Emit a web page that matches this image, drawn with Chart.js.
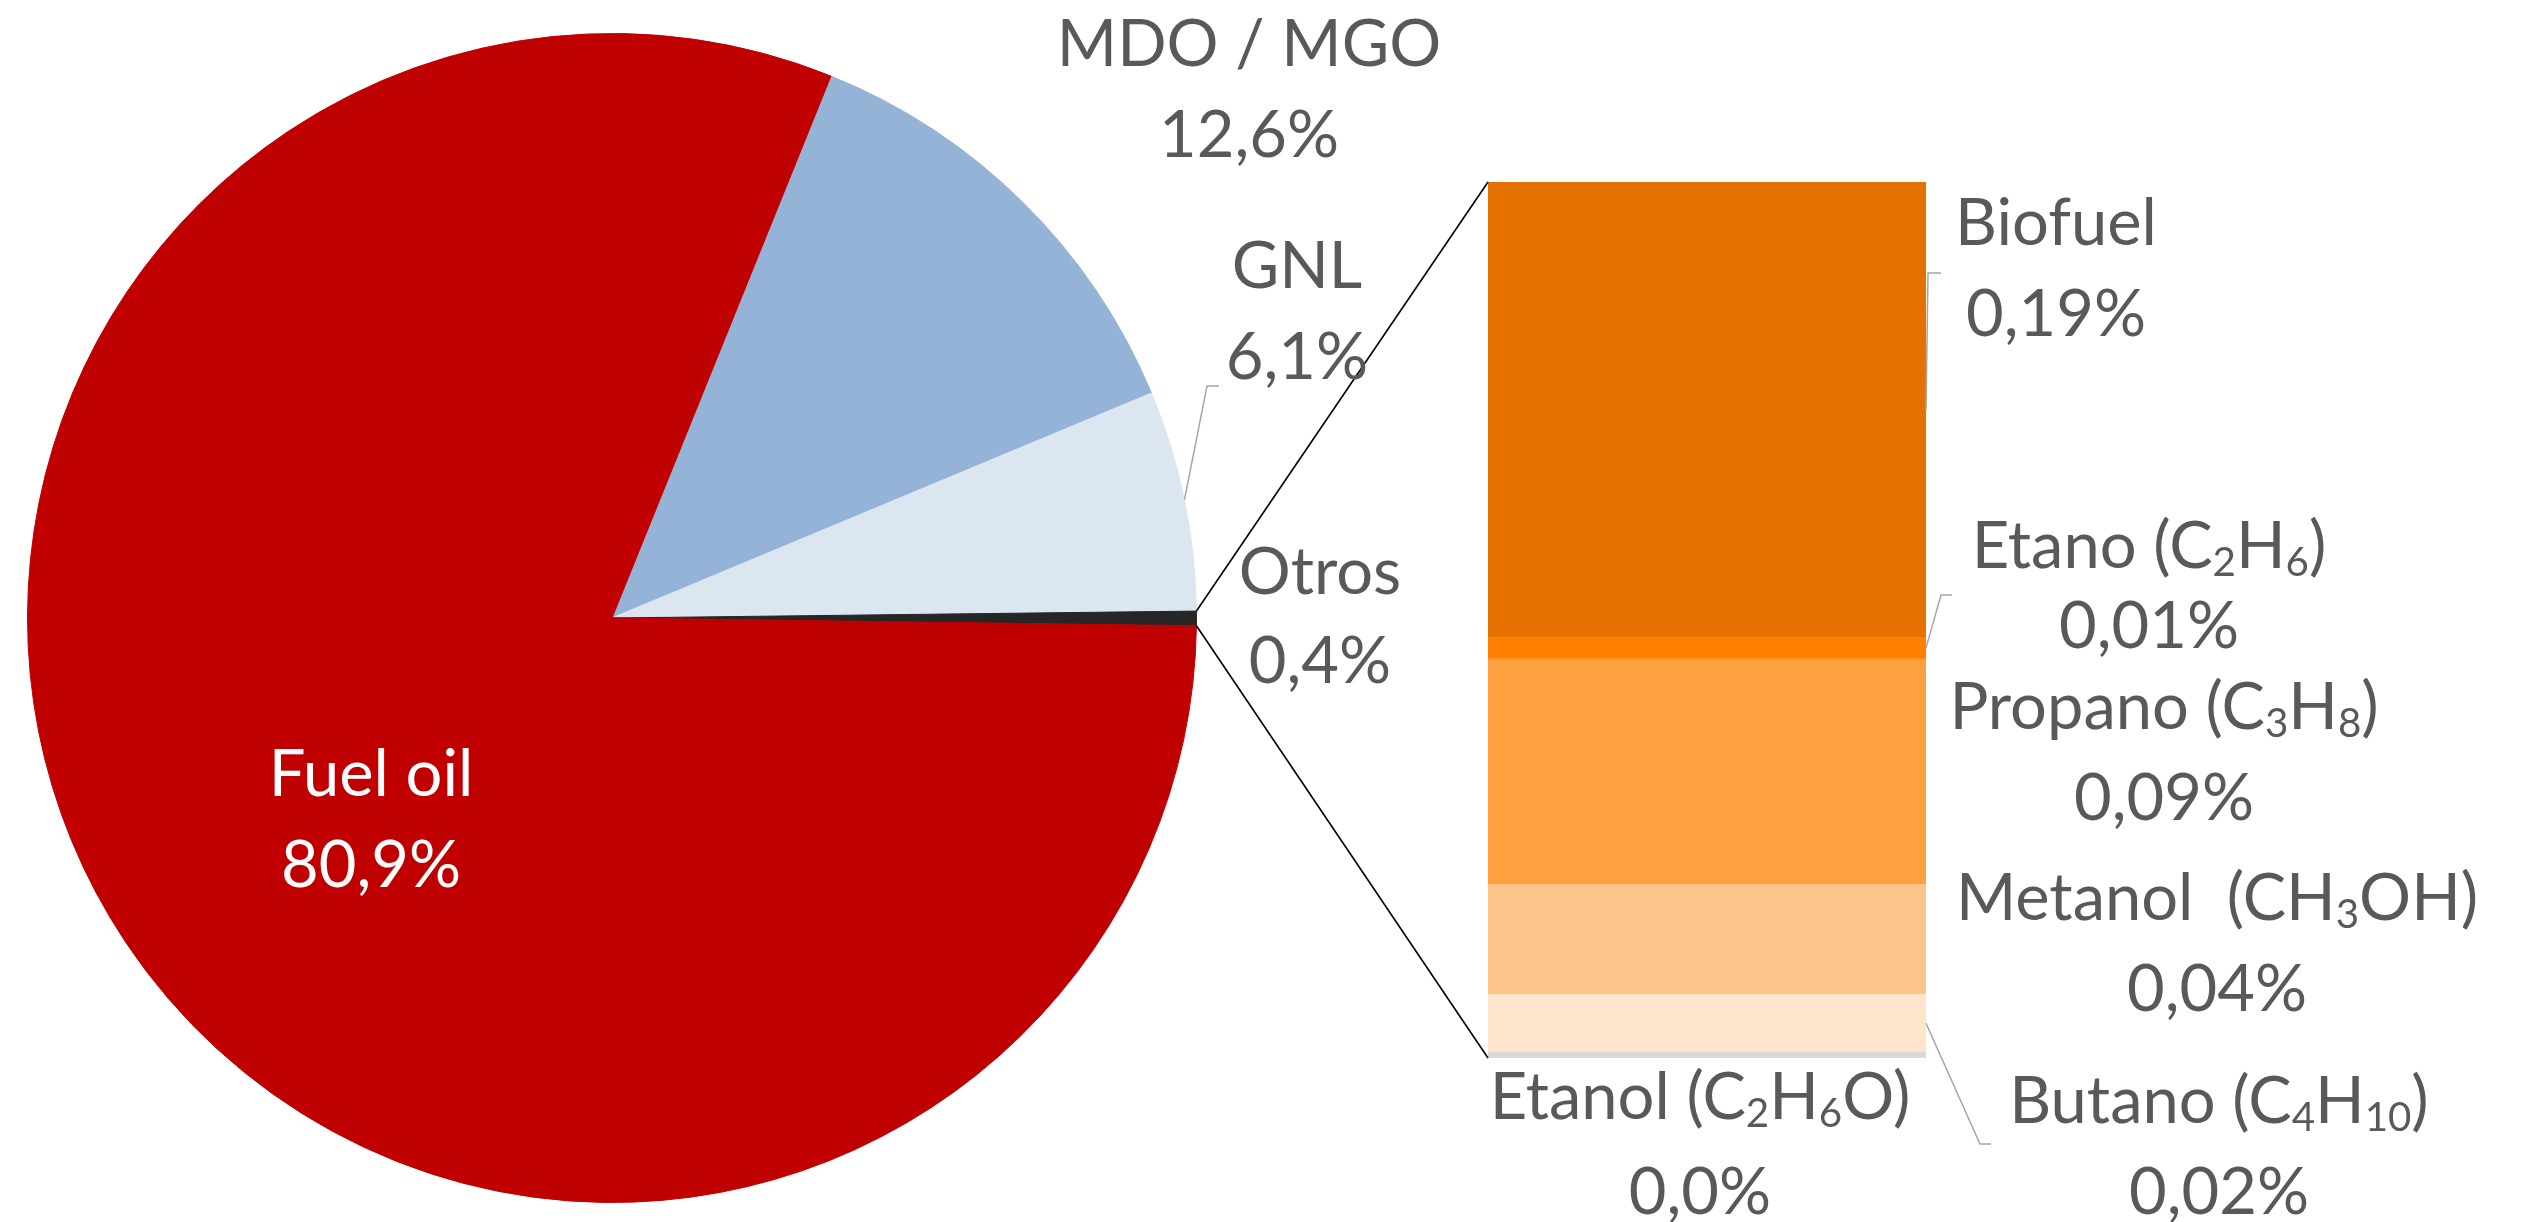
<!DOCTYPE html>
<html>
<head>
<meta charset="utf-8">
<script src="https://cdn.jsdelivr.net/npm/chart.js@4/dist/chart.umd.min.js"></script>
<style>
  html, body { margin: 0; padding: 0; background: #fff; width: 2532px; height: 1222px; overflow: hidden; }
  #wrap { position: relative; width: 2532px; height: 1222px; }
  canvas { position: absolute; display: block; }
  #pie { left: 27px; top: 33px; }
  #bar { left: 1488px; top: 182px; }
  #overlay { left: 0; top: 0; pointer-events: none; }
</style>
</head>
<body>
<div id="wrap">
  <canvas id="pie" width="1170" height="1170"></canvas>
  <canvas id="bar" width="438" height="876"></canvas>
  <canvas id="overlay" width="2532" height="1222"></canvas>
</div>
<script>
// ---------- DATA ----------
const pieCategories = ['MDO / MGO', 'GNL', 'Otros', 'Fuel oil'];
const pieValues = [12.6, 6.1, 0.4, 80.9];
const pieValueLabels = ['12,6%', '6,1%', '0,4%', '80,9%'];

// Breakdown of "Otros" (stacked from bottom to top)
const otrosCategories = ['Etanol (C₂H₆O)', 'Butano (C₄H₁₀)', 'Metanol  (CH₃OH)', 'Propano (C₃H₈)', 'Etano (C₂H₆)', 'Biofuel'];
const otrosValues = [0.0025, 0.024, 0.046, 0.094, 0.009, 0.19];
const otrosValueLabels = ['0,0%', '0,02%', '0,04%', '0,09%', '0,01%', '0,19%'];

// ---------- STYLES ----------
const pieColors = ['#95B3D7', '#DCE6F1', '#262626', '#C00000'];
const otrosColors = ['#D9D9D9', '#FEE5CB', '#FEC48A', '#FFA040', '#FF8000', '#E57200'];
const FONT = 'Lato, "Open Sans", sans-serif';
const FONT_SIZE = 65;
const SUB_SCALE = 0.62;
const TEXT_COLOR = '#595959';

// label layout (page coordinates of text blocks)
const pieLabelLayout = [
  { x: 1249, b1: 66,  b2: 157, color: TEXT_COLOR },
  { x: 1297, b1: 288, b2: 379, color: TEXT_COLOR, leader: { elbow: [1207, 386], tail: 12 } },
  { x: 1320, b1: 594, b2: 683, color: TEXT_COLOR },
  { x: 371,  b1: 796, b2: 887, color: '#FFFFFF' }
];
const otrosLabelLayout = [
  { x: 1700, b1: 1119, b2: 1214 },
  { x: 2219, b1: 1123, b2: 1214, leader: { elbow: [1980, 1144], tail: 11 } },
  { x: 2217, b1: 920,  b2: 1011 },
  { x: 2164, b1: 729,  b2: 820 },
  { x: 2149, b1: 568,  b2: 648, leader: { elbow: [1941, 595], tail: 11 } },
  { x: 2056, b1: 245,  b2: 336, leader: { elbow: [1928, 273], tail: 13 } }
];

Chart.defaults.font.family = FONT;

const pieCanvas = document.getElementById('pie');
const barCanvas = document.getElementById('bar');
const overlay = document.getElementById('overlay');

const pieChart = new Chart(pieCanvas, {
  type: 'pie',
  data: {
    labels: pieCategories,
    datasets: [{
      data: pieValues,
      backgroundColor: pieColors,
      borderColor: pieColors,
      borderWidth: 1
    }]
  },
  options: {
    responsive: false,
    animation: false,
    rotation: 22,
    layout: { padding: 0 },
    plugins: { legend: { display: false }, tooltip: { enabled: false } }
  }
});

const otrosTotal = otrosValues.reduce((a, b) => a + b, 0);
const barChart = new Chart(barCanvas, {
  type: 'bar',
  data: {
    labels: ['Otros'],
    datasets: otrosCategories.map((c, i) => ({
      label: c,
      data: [otrosValues[i]],
      backgroundColor: otrosColors[i],
      borderWidth: 0,
      barPercentage: 1,
      categoryPercentage: 1,
      stack: 'otros'
    }))
  },
  options: {
    responsive: false,
    animation: false,
    layout: { padding: 0 },
    scales: {
      x: { stacked: true, display: false },
      y: { stacked: true, display: false, min: 0, max: otrosTotal }
    },
    plugins: { legend: { display: false }, tooltip: { enabled: false } }
  }
});

const SUB = { '₀': '0', '₁': '1', '₂': '2', '₃': '3', '₄': '4', '₅': '5', '₆': '6', '₇': '7', '₈': '8', '₉': '9' };
function drawRich(ctx, text, cx, baseline, size, color) {
  const runs = [];
  for (const ch of text) {
    const sub = ch in SUB;
    const c = sub ? SUB[ch] : ch;
    if (runs.length && runs[runs.length - 1].sub === sub) runs[runs.length - 1].t += c;
    else runs.push({ sub, t: c });
  }
  const subSize = size * SUB_SCALE;
  let total = 0;
  runs.forEach(r => {
    ctx.font = (r.sub ? subSize : size) + 'px ' + FONT;
    r.w = ctx.measureText(r.t).width;
    total += r.w;
  });
  let x = cx - total / 2;
  ctx.fillStyle = color;
  ctx.textAlign = 'left';
  ctx.textBaseline = 'alphabetic';
  runs.forEach(r => {
    ctx.font = (r.sub ? subSize : size) + 'px ' + FONT;
    ctx.fillText(r.t, x, baseline + (r.sub ? size * 0.12 : 0));
    x += r.w;
  });
}

function line(ctx, pts, color, width) {
  ctx.beginPath();
  ctx.moveTo(pts[0][0], pts[0][1]);
  for (let i = 1; i < pts.length; i++) ctx.lineTo(pts[i][0], pts[i][1]);
  ctx.strokeStyle = color;
  ctx.lineWidth = width;
  ctx.stroke();
}

function drawOverlay() {
  const ctx = overlay.getContext('2d');
  ctx.clearRect(0, 0, overlay.width, overlay.height);
  const pOff = [pieCanvas.offsetLeft, pieCanvas.offsetTop];
  const bOff = [barCanvas.offsetLeft, barCanvas.offsetTop];
  const arcs = pieChart.getDatasetMeta(0).data;
  const arcPoint = (arc, ang) => [pOff[0] + arc.x + arc.outerRadius * Math.cos(ang), pOff[1] + arc.y + arc.outerRadius * Math.sin(ang)];

  const bars = otrosCategories.map((c, i) => barChart.getDatasetMeta(i).data[0]);
  const topBar = bars[bars.length - 1], botBar = bars[0];
  const barLeft = bOff[0] + topBar.x - topBar.width / 2;
  const barRight = bOff[0] + topBar.x + topBar.width / 2;

  // connectors from "Otros" slice to the bar
  const otros = arcs[2];
  line(ctx, [arcPoint(otros, otros.startAngle), [barLeft, bOff[1] + topBar.y]], '#000', 1.6);
  line(ctx, [arcPoint(otros, otros.endAngle), [barLeft, bOff[1] + botBar.base]], '#000', 1.6);

  // pie labels
  pieCategories.forEach((c, i) => {
    const L = pieLabelLayout[i];
    if (L.leader) {
      const a = arcs[i];
      const p = arcPoint(a, (a.startAngle + a.endAngle) / 2);
      const e = L.leader.elbow;
      line(ctx, [p, e, [e[0] + L.leader.tail, e[1]]], '#A6A6A6', 1.5);
    }
    drawRich(ctx, c, L.x, L.b1, FONT_SIZE, L.color);
    drawRich(ctx, pieValueLabels[i], L.x, L.b2, FONT_SIZE, L.color);
  });

  // bar labels
  otrosCategories.forEach((c, i) => {
    const L = otrosLabelLayout[i];
    if (L.leader) {
      const b = bars[i];
      const p = [barRight, bOff[1] + (b.y + b.base) / 2];
      const e = L.leader.elbow;
      line(ctx, [p, e, [e[0] + L.leader.tail, e[1]]], '#A6A6A6', 1.5);
    }
    drawRich(ctx, c, L.x, L.b1, FONT_SIZE, TEXT_COLOR);
    drawRich(ctx, otrosValueLabels[i], L.x, L.b2, FONT_SIZE, TEXT_COLOR);
  });
}

drawOverlay();
if (document.fonts && document.fonts.load) {
  document.fonts.load(FONT_SIZE + 'px Lato').then(drawOverlay).catch(() => {});
  document.fonts.ready.then(drawOverlay);
}
</script>
</body>
</html>
